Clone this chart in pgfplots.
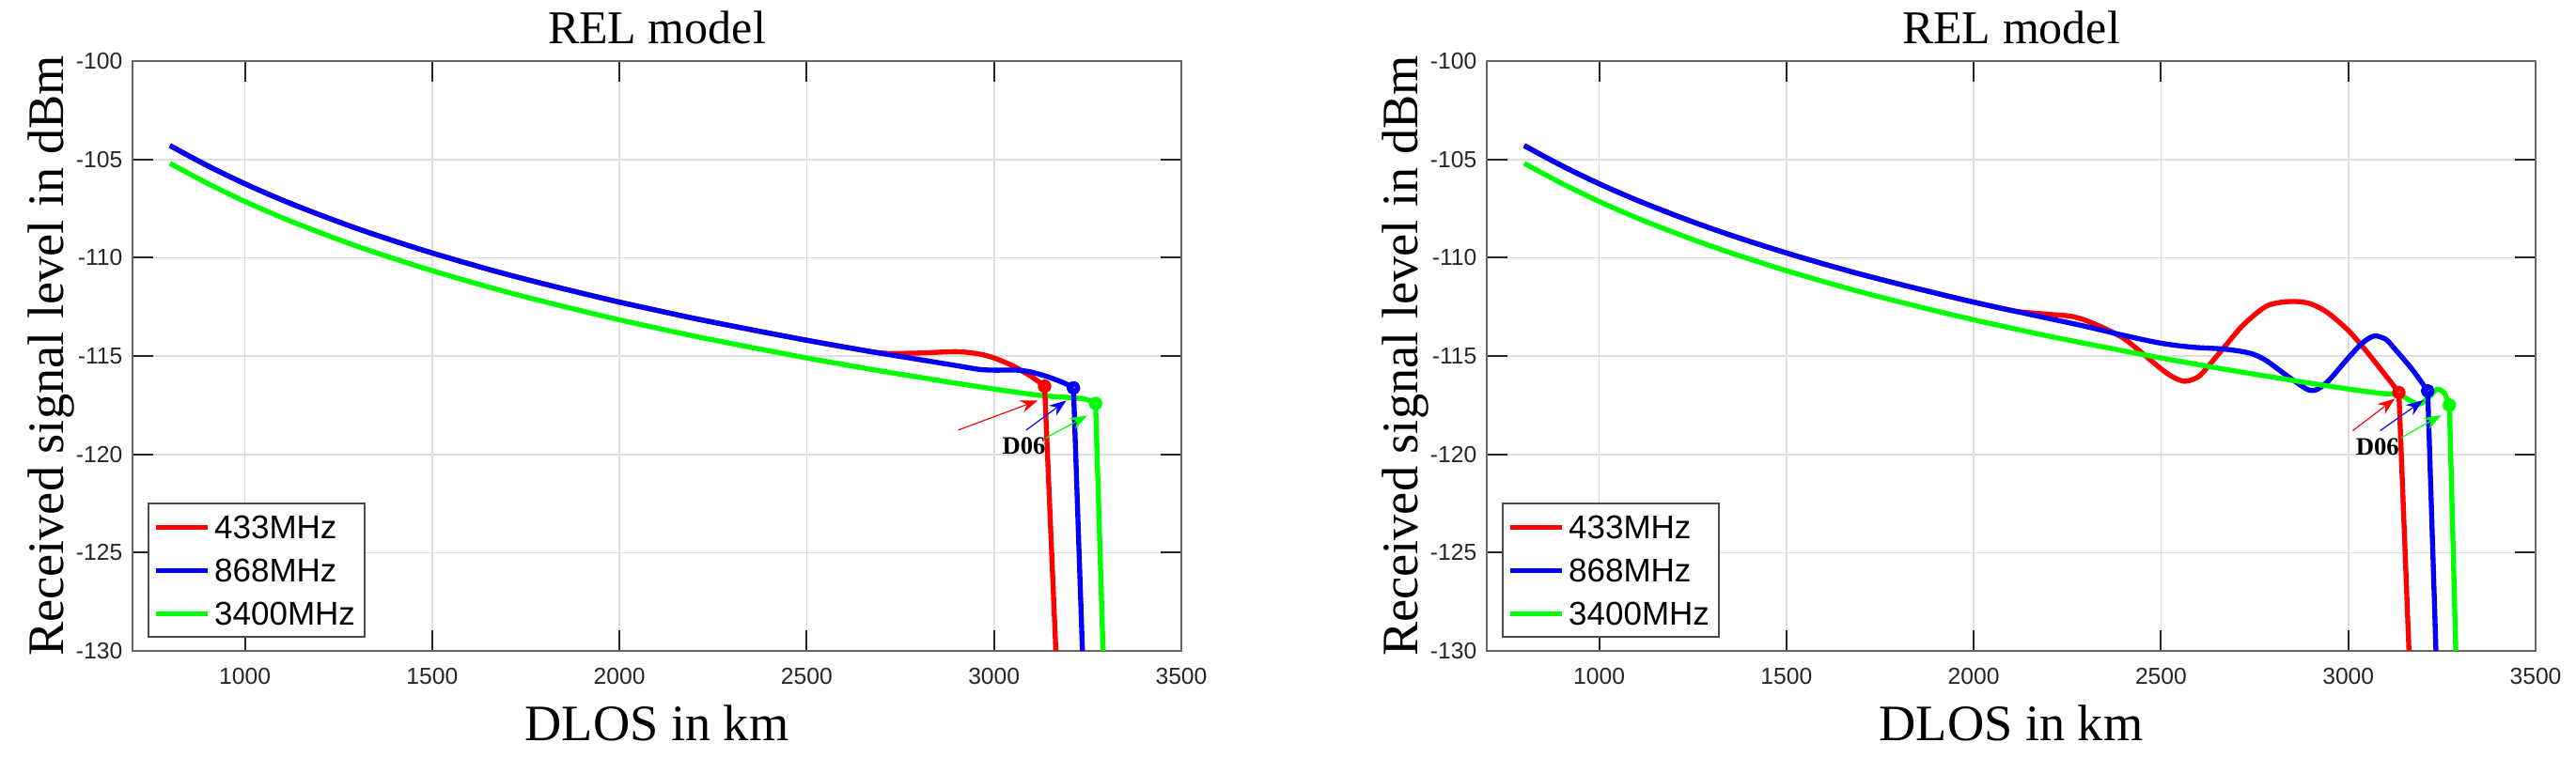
\documentclass[border=0pt]{standalone}
\usepackage{fontspec}
\setmainfont{Liberation Serif}
\setsansfont{Liberation Sans}
\usepackage{pgfplots}
\pgfplotsset{compat=1.18}
\usetikzlibrary{arrows.meta}
\definecolor{mred}{rgb}{1,0,0}
\definecolor{mblue}{rgb}{0,0,1}
\definecolor{mgreen}{rgb}{0,1,0}
\newcommand\tickfont{\fontsize{7.4}{9}\selectfont\sffamily}
\pgfplotsset{myaxis/.style={
  scale only axis, width=334.8pt, height=188.4pt,
  xmin=700, xmax=3500, ymin=-130, ymax=-100,
  xtick={1000,1500,2000,2500,3000,3500},
  xticklabels={1000,1500,2000,2500,3000,3500},
  ytick={-130,-125,-120,-115,-110,-105,-100},
  yticklabels={-130,-125,-120,-115,-110,-105,-100},
  grid=major, major grid style={draw=black!13, line width=0.5pt},
  axis line style={draw=black!60, line width=0.6pt},
  major tick style={draw=black!85, line width=0.6pt}, major tick length=6.6pt,
  tick align=inside,
  ticklabel style={font=\tickfont, text=black!85},
  xticklabel style={inner sep=0pt, anchor=north, yshift=-5.4pt},
  yticklabel style={inner sep=0pt, anchor=east, xshift=-3pt},
  title={REL model},
  every axis title/.style={font=\fontsize{15}{18}\selectfont, at={(axis description cs:0.5,1.0287)}, anchor=base, inner sep=0pt},
  xlabel={DLOS in km},
  xlabel style={font=\fontsize{16.3}{19}\selectfont, at={(axis description cs:0.5,-0.1513)}, anchor=base, inner sep=0pt},
  ylabel={Received signal level in dBm},
  ylabel style={font=\fontsize{16.3}{19}\selectfont, at={(axis description cs:-0.0663,0.5)}, anchor=base, inner sep=0pt},
  legend cell align=left,
  legend style={at={(axis description cs:0.01434,0.0223)}, anchor=south west,
    draw=black!70, line width=0.5pt, fill=white,
    font=\fontsize{10.5}{12}\selectfont\sffamily,
    inner xsep=1.5pt, inner ysep=3.7pt, row sep=6.2pt,
    nodes={inner xsep=1.5pt, inner ysep=0pt, text height=7.6pt, text depth=0pt}},
  legend image code/.code={\draw[line width=1.6pt] (0pt,0pt) -- (16.5pt,0pt);},
  every axis plot/.append style={line width=1.6pt, line join=round},
}}
\begin{document}
\begin{tikzpicture}
\useasboundingbox (0,0) rectangle (822.3pt,241.8pt);
% ---------------- left panel ----------------
\begin{axis}[myaxis, at={(42.3pt,33.9pt)}, anchor=south west]
\addplot[mred, smooth] coordinates {(800,-104.30) (900,-105.32) (1000,-106.24) (1100,-107.07) (1200,-107.82) (1300,-108.52) (1400,-109.16) (1500,-109.76) (1600,-110.32) (1700,-110.85) (1800,-111.34) (1900,-111.81) (2000,-112.26) (2100,-112.68) (2200,-113.09) (2300,-113.47) (2400,-113.84) (2500,-114.20) (2600,-114.54) (2700,-114.85) (2800,-114.85) (2900,-114.78) (2960,-114.9) (3000,-115.1) (3050,-115.5) (3100,-116.05) (3135,-116.54)};
\addlegendentry{433MHz}
\addplot[mblue, smooth] coordinates {(800,-104.30) (900,-105.32) (1000,-106.24) (1100,-107.07) (1200,-107.82) (1300,-108.52) (1400,-109.16) (1500,-109.76) (1600,-110.32) (1700,-110.85) (1800,-111.34) (1900,-111.81) (2000,-112.26) (2100,-112.68) (2200,-113.09) (2300,-113.47) (2400,-113.84) (2500,-114.20) (2600,-114.54) (2700,-114.87) (2800,-115.18) (2900,-115.49) (2960,-115.68) (3000,-115.72) (3060,-115.72) (3100,-115.82) (3150,-116.1) (3190,-116.4) (3212,-116.62)};
\addlegendentry{868MHz}
\addplot[mgreen, smooth] coordinates {(800,-105.20) (900,-106.22) (1000,-107.14) (1100,-107.97) (1200,-108.72) (1300,-109.42) (1400,-110.06) (1500,-110.66) (1600,-111.22) (1700,-111.75) (1800,-112.24) (1900,-112.71) (2000,-113.16) (2100,-113.58) (2200,-113.99) (2300,-114.37) (2400,-114.74) (2500,-115.10) (2600,-115.44) (2700,-115.77) (2800,-116.08) (2900,-116.39) (3000,-116.68) (3100,-116.95) (3150,-117.05) (3213,-117.13) (3245,-117.2) (3271,-117.41)};
\addlegendentry{3400MHz}
\addplot[mred, forget plot] coordinates {(3135,-116.54) (3165,-130)};
\addplot[mblue, forget plot] coordinates {(3212,-116.62) (3236,-130)};
\addplot[mgreen, forget plot] coordinates {(3271,-117.41) (3291,-130)};
\addplot[mred, only marks, mark=o, mark size=1.4pt, forget plot] coordinates {(3135,-116.54)};
\addplot[mblue, only marks, mark=o, mark size=1.4pt, forget plot] coordinates {(3212,-116.62)};
\addplot[mgreen, only marks, mark=o, mark size=1.4pt, forget plot] coordinates {(3271,-117.41)};
\draw[mred, line width=0.35pt, -{Stealth[length=5.5pt,width=4pt]}] (axis cs:2904,-118.77) -- (axis cs:3117,-117.26);
\draw[mblue, line width=0.35pt, -{Stealth[length=5.5pt,width=4pt]}] (axis cs:3086,-118.77) -- (axis cs:3193,-117.26);
\draw[mgreen, line width=0.35pt, -{Stealth[length=5.5pt,width=4pt]}] (axis cs:3138,-119.17) -- (axis cs:3249,-118.03);
\node[font=\bfseries\fontsize{8}{9}\selectfont, inner sep=0pt] at (axis cs:3080,-119.57) {D06};
\end{axis}
% ---------------- right panel ----------------
\begin{axis}[myaxis, at={(474.6pt,33.9pt)}, anchor=south west]
\addplot[mred, smooth] coordinates {(800,-104.30) (900,-105.32) (1000,-106.24) (1100,-107.07) (1200,-107.82) (1300,-108.52) (1400,-109.16) (1500,-109.76) (1600,-110.32) (1700,-110.85) (1800,-111.34) (1900,-111.81) (2000,-112.26) (2100,-112.68) (2150,-112.8) (2200,-112.88) (2260,-112.98) (2300,-113.2) (2350,-113.6) (2400,-114.1) (2442,-114.73) (2500,-115.65) (2530,-116.05) (2564,-116.29) (2600,-116.05) (2627,-115.5) (2669,-114.55) (2719,-113.43) (2778,-112.5) (2820,-112.27) (2861,-112.23) (2900,-112.35) (2945,-112.8) (3003,-113.76) (3053,-114.87) (3103,-116.07) (3135,-116.86)};
\addlegendentry{433MHz}
\addplot[mblue, smooth] coordinates {(800,-104.30) (900,-105.32) (1000,-106.24) (1100,-107.07) (1200,-107.82) (1300,-108.52) (1400,-109.16) (1500,-109.76) (1600,-110.32) (1700,-110.85) (1800,-111.34) (1900,-111.81) (2000,-112.26) (2100,-112.68) (2200,-113.09) (2300,-113.5) (2400,-113.95) (2500,-114.35) (2583,-114.55) (2669,-114.65) (2736,-114.85) (2778,-115.2) (2836,-116.0) (2886,-116.65) (2910,-116.75) (2945,-116.3) (3003,-115.03) (3040,-114.3) (3070,-113.98) (3100,-114.15) (3120,-114.55) (3170,-115.67) (3212,-116.78)};
\addlegendentry{868MHz}
\addplot[mgreen, smooth] coordinates {(800,-105.20) (900,-106.22) (1000,-107.14) (1100,-107.97) (1200,-108.72) (1300,-109.42) (1400,-110.06) (1500,-110.66) (1600,-111.22) (1700,-111.75) (1800,-112.24) (1900,-112.71) (2000,-113.16) (2100,-113.58) (2200,-113.99) (2300,-114.37) (2400,-114.74) (2500,-115.10) (2600,-115.44) (2700,-115.77) (2800,-116.08) (2900,-116.39) (3000,-116.68) (3086,-116.9) (3136,-116.97) (3186,-117.45) (3215,-117.1) (3236,-116.7) (3255,-116.85) (3270,-117.5)};
\addlegendentry{3400MHz}
\addplot[mred, forget plot] coordinates {(3135,-116.86) (3162,-130)};
\addplot[mblue, forget plot] coordinates {(3212,-116.78) (3234,-130)};
\addplot[mgreen, forget plot] coordinates {(3270,-117.5) (3287,-130)};
\addplot[mred, only marks, mark=o, mark size=1.4pt, forget plot] coordinates {(3135,-116.86)};
\addplot[mblue, only marks, mark=o, mark size=1.4pt, forget plot] coordinates {(3212,-116.78)};
\addplot[mgreen, only marks, mark=o, mark size=1.4pt, forget plot] coordinates {(3270,-117.5)};
\draw[mred, line width=0.35pt, -{Stealth[length=5.5pt,width=4pt]}] (axis cs:3012,-118.8) -- (axis cs:3124,-117.17);
\draw[mblue, line width=0.35pt, -{Stealth[length=5.5pt,width=4pt]}] (axis cs:3085,-118.8) -- (axis cs:3200,-117.25);
\draw[mgreen, line width=0.35pt, -{Stealth[length=5.5pt,width=4pt]}] (axis cs:3141,-119.16) -- (axis cs:3248,-118.01);
\node[font=\bfseries\fontsize{8}{9}\selectfont, inner sep=0pt] at (axis cs:3078,-119.6) {D06};
\end{axis}
\end{tikzpicture}
\end{document}
